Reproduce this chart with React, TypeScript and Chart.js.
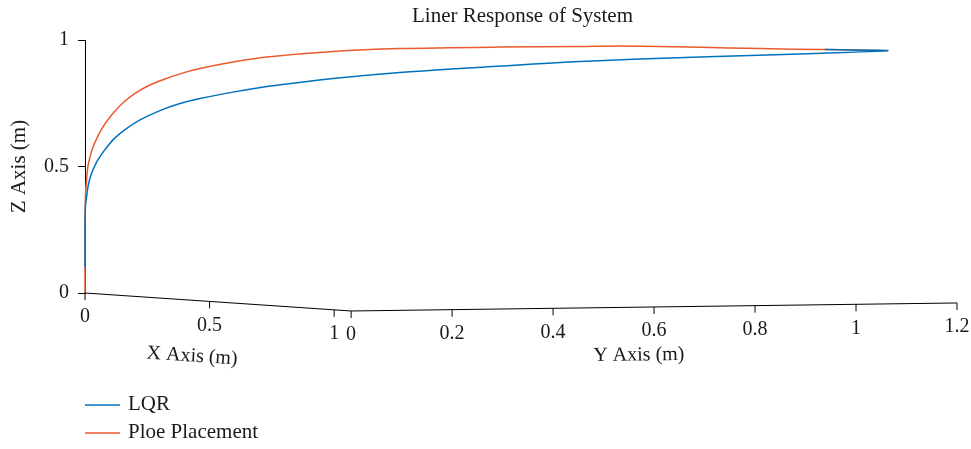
import React, { useEffect, useRef } from "react";
import { Chart, registerables } from "chart.js";

Chart.register(...registerables);

// ---- Data ----
// Curves are given in the picture's projected frame:
// horizontal position (in Y-axis metres, measured from the Z axis) and height (Z, m).
const lqrH = [0, 0, 0.001, 0.0034, 0.0065, 0.0133, 0.0232, 0.0317, 0.0436, 0.0594, 0.0792, 0.1089, 0.1485, 0.1881, 0.2277, 0.2931, 0.3604, 0.4911, 0.6238, 0.8218, 0.9802, 1.2178, 1.4158, 1.5901, 1.4653];
const lqrZ = [0.103, 0.249, 0.348, 0.383, 0.427, 0.474, 0.518, 0.545, 0.577, 0.613, 0.646, 0.684, 0.721, 0.749, 0.769, 0.794, 0.816, 0.848, 0.872, 0.897, 0.915, 0.933, 0.945, 0.958, 0.962];

const ppH = [0, 0, 0.001, 0.0034, 0.0059, 0.0099, 0.0158, 0.0238, 0.0317, 0.0436, 0.0594, 0.0792, 0.103, 0.1287, 0.1584, 0.1881, 0.2277, 0.2931, 0.3604, 0.4911, 0.6238, 0.8218, 0.9802, 1.0594, 1.2178, 1.3366, 1.4653, 1.5901];
const ppZ = [0, 0.249, 0.387, 0.455, 0.502, 0.538, 0.577, 0.613, 0.644, 0.68, 0.719, 0.759, 0.794, 0.822, 0.846, 0.866, 0.887, 0.913, 0.933, 0.955, 0.966, 0.972, 0.974, 0.976, 0.971, 0.966, 0.962, 0.958];

const seriesLabels = ["LQR", "Ploe Placement"];
const seriesColors = ["#0072BD", "#EA5A2C"];

const zTicks = [0, 0.5, 1];
const xAxisTicks = [0, 0.5, 1];
const yAxisTicks = [0, 0.2, 0.4, 0.6, 0.8, 1, 1.2];
const xAxisMax = 1.068;
const yAxisMax = 1.2;

const titleText = "Liner Response of System";
const xTitle = "X Axis (m)";
const yTitle = "Y Axis (m)";
const zTitle = "Z Axis (m)";

// projected directions of the 3D X and Y axes in the (horizontal, height) frame
const X_DIR = [0.4935, -0.0666];
const Y_DIR = [1.0, 0.0264];
const H_MAX = 1.733;

const FONT = "'Liberation Serif', 'Times New Roman', serif";
const TEXT = "#1a1a1a";

const axes3d = {
  id: "axes3d",
  afterDraw(chart: any) {
    const ctx = chart.ctx as CanvasRenderingContext2D;
    const hs = chart.scales.x;
    const vs = chart.scales.y;
    const P = (xv: number, yv: number) => {
      const h = xv * X_DIR[0] + yv * Y_DIR[0];
      const v = xv * X_DIR[1] + yv * Y_DIR[1];
      return [hs.getPixelForValue(h), vs.getPixelForValue(v)];
    };
    ctx.save();
    ctx.strokeStyle = "#000";
    ctx.lineWidth = 1;
    ctx.fillStyle = TEXT;
    ctx.font = `20px ${FONT}`;
    ctx.textAlign = "center";
    ctx.textBaseline = "middle";

    // X axis (at y = 0, z = 0)
    const a = P(0, 0);
    const b = P(xAxisMax, 0);
    ctx.beginPath();
    ctx.moveTo(a[0], a[1]);
    ctx.lineTo(b[0], b[1]);
    ctx.stroke();
    xAxisTicks.forEach((t) => {
      const p = P(t, 0);
      ctx.beginPath();
      ctx.moveTo(p[0], p[1]);
      ctx.lineTo(p[0], p[1] + 7);
      ctx.stroke();
      ctx.fillText(String(t), p[0], p[1] + 24);
    });

    // Y axis (at x = xmax, z = 0)
    const c = P(xAxisMax, yAxisMax);
    ctx.beginPath();
    ctx.moveTo(b[0], b[1]);
    ctx.lineTo(c[0], c[1]);
    ctx.stroke();
    yAxisTicks.forEach((t) => {
      const p = P(xAxisMax, t);
      ctx.beginPath();
      ctx.moveTo(p[0], p[1]);
      ctx.lineTo(p[0], p[1] + 7);
      ctx.stroke();
      ctx.fillText(String(t), p[0], p[1] + 24);
    });

    // axis titles, slightly rotated along their axes
    const xa = Math.atan2(b[1] - a[1], b[0] - a[0]);
    const xt = P(0.43, 0);
    ctx.save();
    ctx.translate(xt[0], xt[1] + 56);
    ctx.rotate(xa);
    ctx.fillText(xTitle, 0, 0);
    ctx.restore();

    const ya = Math.atan2(c[1] - b[1], c[0] - b[0]);
    const yt = P(xAxisMax, 0.57);
    ctx.save();
    ctx.translate(yt[0], yt[1] + 48);
    ctx.rotate(ya);
    ctx.fillText(yTitle, 0, 0);
    ctx.restore();

    // legend (stacked, bottom-left)
    const left = chart.chartArea.left;
    const bottom = chart.chartArea.bottom;
    ctx.font = `21px ${FONT}`;
    chart.data.datasets.forEach((ds: any, i: number) => {
      const y = bottom + 112 + i * 28;
      ctx.strokeStyle = ds.borderColor;
      ctx.lineWidth = 1.5;
      ctx.beginPath();
      ctx.moveTo(left, y);
      ctx.lineTo(left + 35, y);
      ctx.stroke();
      ctx.textAlign = "left";
      ctx.fillStyle = TEXT;
      ctx.fillText(ds.label, left + 43, y - 1);
    });
    ctx.restore();
  },
};

export default function App() {
  const ref = useRef<HTMLCanvasElement | null>(null);
  useEffect(() => {
    if (!ref.current) return;
    const mk = (hs: number[], zs: number[]) => hs.map((h, i) => ({ x: h, y: zs[i] }));
    const chart = new Chart(ref.current, {
      type: "scatter",
      data: {
        datasets: [
          {
            label: seriesLabels[0],
            data: mk(lqrH, lqrZ),
            borderColor: seriesColors[0],
            backgroundColor: seriesColors[0],
            showLine: true,
            pointRadius: 0,
            borderWidth: 1.5,
            tension: 0.3,
            clip: false as any,
          },
          {
            label: seriesLabels[1],
            data: mk(ppH, ppZ),
            borderColor: seriesColors[1],
            backgroundColor: seriesColors[1],
            showLine: true,
            pointRadius: 0,
            borderWidth: 1.5,
            tension: 0.3,
            clip: false as any,
          },
        ],
      },
      plugins: [axes3d],
      options: {
        animation: false,
        responsive: true,
        maintainAspectRatio: false,
        layout: { padding: { top: 0, right: 11, bottom: 156, left: 0 } },
        plugins: {
          legend: { display: false },
          tooltip: { enabled: false },
          title: {
            display: true,
            text: titleText,
            color: TEXT,
            fullSize: false,
            font: { family: FONT, size: 21, weight: "normal", lineHeight: 1 },
            padding: { top: 6, bottom: 13 },
          },
        },
        scales: {
          x: { type: "linear", display: false, min: 0, max: H_MAX },
          y: {
            type: "linear",
            min: 0,
            max: 1,
            afterBuildTicks: (s: any) => {
              s.ticks = zTicks.map((v) => ({ value: v }));
            },
            afterFit: (s: any) => {
              s.width = 85;
            },
            ticks: {
              color: TEXT,
              font: { family: FONT, size: 20 },
              padding: 9,
              callback: (v: any) => String(v),
            },
            grid: { drawOnChartArea: false, drawTicks: true, tickLength: 7, color: "#000" },
            border: { display: true, color: "#000", width: 1 },
            title: {
              display: true,
              text: zTitle,
              color: TEXT,
              font: { family: FONT, size: 21 },
              padding: { top: 7, bottom: 0 },
            },
          },
        },
      },
    });
    return () => chart.destroy();
  }, []);
  return (
    <div style={{ position: "fixed", left: 0, top: 0, width: 971, height: 449 }}>
      <canvas ref={ref} />
    </div>
  );
}
